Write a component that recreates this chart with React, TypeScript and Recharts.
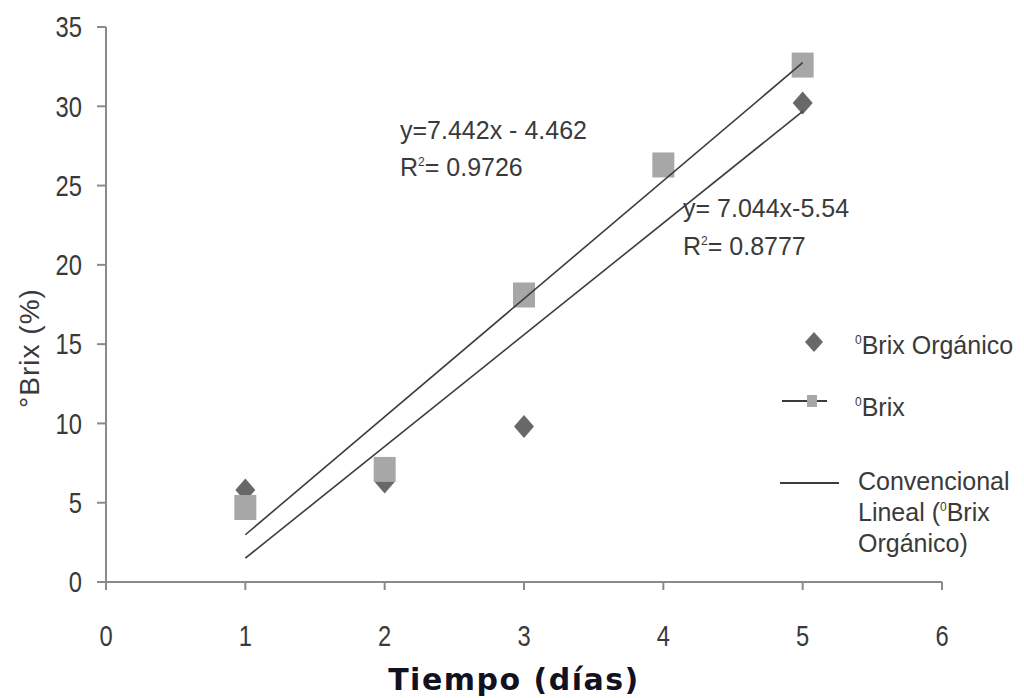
import React from 'react';
import { ScatterChart, Scatter, XAxis, YAxis, Customized } from 'recharts';

// Measured °Brix per day
const organicoDays = [1, 2, 3, 5];
const organicoValues = [5.8, 6.3, 9.8, 30.2];
const brixDays = [1, 2, 3, 4, 5];
const brixValues = [4.7, 7.1, 18.1, 26.3, 32.6];

// Linear fits: [slope, intercept] over the measured day range
const fitBrix = [7.442, -4.462];
const fitOrganico = [7.044, -5.54];
const fitRange = [1, 5];

const xTicks = [0, 1, 2, 3, 4, 5, 6];
const yTicks = [0, 5, 10, 15, 20, 25, 30, 35];

const organicoData = organicoDays.map((x, i) => ({ x, y: organicoValues[i] }));
const brixData = brixDays.map((x, i) => ({ x, y: brixValues[i] }));
const lineFrom = (fit: number[]) => fitRange.map((x) => ({ x, y: fit[0] * x + fit[1] }));
const brixFitData = lineFrom(fitBrix);
const organicoFitData = lineFrom(fitOrganico);

const AXIS = '#8a8a8a';
const SQUARE = '#a7a7a7';
const DIAMOND = '#686868';
const TREND = '#3c3c3c';
const TEXT = '#3a3a3a';
const FONT = '"Liberation Sans", Arial, sans-serif';

const SquareShape = (props: any) => {
  const { cx, cy } = props;
  if (cx == null || cy == null) return <g />;
  return <rect x={cx - 11} y={cy - 12.5} width={22} height={25} fill={SQUARE} />;
};

const DiamondShape = (props: any) => {
  const { cx, cy } = props;
  if (cx == null || cy == null) return <g />;
  const w = 10;
  const h = 11.5;
  return (
    <polygon
      points={`${cx},${cy - h} ${cx + w},${cy} ${cx},${cy + h} ${cx - w},${cy}`}
      fill={DIAMOND}
    />
  );
};

const NoShape = () => <g />;

// Condensed tick labels
const makeTick = (anchor: 'middle' | 'end', dy: string) => (props: any) => {
  const { x, y, payload } = props;
  return (
    <text
      transform={`translate(${x},${y}) scale(0.82,1)`}
      textAnchor={anchor}
      dy={dy}
      fontSize={29}
      fontFamily={FONT}
      fill={TEXT}
    >
      {payload.value}
    </text>
  );
};
const XTick = makeTick('middle', '0.71em');
const YTick = makeTick('end', '0.355em');

const Sup = ({ children }: { children: React.ReactNode }) => (
  <tspan fontSize={12} dy={-10}>
    {children}
  </tspan>
);

const Annotations = () => (
  <g fontFamily={FONT} fill={TEXT}>
    {/* fit equations */}
    <text x={400} y={139} fontSize={25}>y=7.442x - 4.462</text>
    <text x={400} y={176} fontSize={25}>
      R<Sup>2</Sup>
      <tspan dy={10}>= 0.9726</tspan>
    </text>
    <text x={683} y={217} fontSize={25}>y= 7.044x-5.54</text>
    <text x={683} y={255} fontSize={25}>
      R<Sup>2</Sup>
      <tspan dy={10}>= 0.8777</tspan>
    </text>

    {/* legend */}
    <polygon points="814,332 823,342 814,352 805,342" fill={DIAMOND} />
    <text x={855} y={354} fontSize={25}>
      <Sup>0</Sup>
      <tspan dy={10}>Brix Orgánico</tspan>
    </text>

    <line x1={782} y1={401} x2={827} y2={401} stroke={TREND} strokeWidth={2} />
    <rect x={807} y={395} width={10} height={12} fill={SQUARE} />
    <text x={855} y={416} fontSize={25}>
      <Sup>0</Sup>
      <tspan dy={10}>Brix</tspan>
    </text>

    <line x1={780} y1={483} x2={839} y2={483} stroke={TREND} strokeWidth={2} />
    <text x={858} y={490} fontSize={25}>Convencional</text>
    <text x={858} y={521} fontSize={25}>
      Lineal (<Sup>0</Sup>
      <tspan dy={10}>Brix</tspan>
    </text>
    <text x={858} y={552} fontSize={25}>Orgánico)</text>

    {/* axis titles */}
    <text
      x={29}
      y={348}
      fontSize={28}
      letterSpacing={1}
      textAnchor="middle"
      dominantBaseline="central"
      transform="rotate(-90 29 348)"
    >
      °Brix (%)
    </text>
    <text
      x={514}
      y={690}
      fontSize={30}
      fontWeight="bold"
      letterSpacing={1.5}
      textAnchor="middle"
      fontFamily='"DejaVu Sans", Verdana, sans-serif'
      fill="#111122"
    >
      Tiempo (días)
    </text>
  </g>
);

export default function App() {
  return (
    <div style={{ position: 'absolute', left: 0, top: 0, background: '#fff' }}>
      <ScatterChart
        width={1024}
        height={698}
        margin={{ top: 27, right: 82, bottom: 0, left: 0 }}
      >
        <XAxis
          type="number"
          dataKey="x"
          domain={[0, 6]}
          ticks={xTicks}
          height={116}
          stroke={AXIS}
          strokeWidth={2}
          tickSize={8}
          tickMargin={35}
          tick={XTick}
          interval={0}
        />
        <YAxis
          type="number"
          dataKey="y"
          domain={[0, 35]}
          ticks={yTicks}
          width={106}
          stroke={AXIS}
          strokeWidth={2}
          tickSize={9}
          tickMargin={15}
          tick={YTick}
          interval={0}
        />
        <Scatter data={organicoData} shape={DiamondShape} isAnimationActive={false} />
        <Scatter data={brixData} shape={SquareShape} isAnimationActive={false} />
        <Scatter
          data={brixFitData}
          shape={NoShape}
          line={{ stroke: TREND, strokeWidth: 1.6 }}
          isAnimationActive={false}
        />
        <Scatter
          data={organicoFitData}
          shape={NoShape}
          line={{ stroke: TREND, strokeWidth: 1.6 }}
          isAnimationActive={false}
        />
        <Customized component={Annotations} />
      </ScatterChart>
    </div>
  );
}
